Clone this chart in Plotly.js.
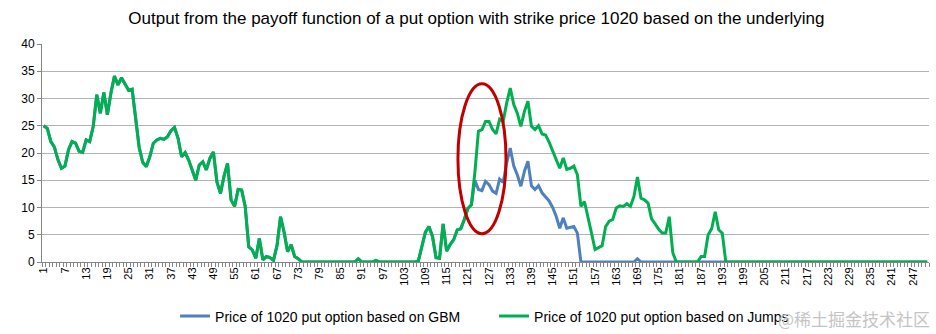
<!DOCTYPE html>
<html>
<head>
<meta charset="utf-8">
<script src="https://cdn.plot.ly/plotly-3.0.1.min.js"></script>
<style>html,body{margin:0;padding:0;background:#fff;}#chart{width:936px;height:334px;}</style>
</head>
<body>
<div id="chart"></div>
<script>
// Period index 1..251
var periods = [];
for (var k = 1; k <= 251; k++) periods.push(k);

var tickLabels = [1,7,13,19,25,31,37,43,49,55,61,67,73,79,85,91,97,103,109,115,121,127,133,139,145,151,157,163,169,175,181,187,193,199,205,211,217,223,229,235,241,247];

var gbmName = "Price of 1020 put option based on GBM";
var jumpName = "Price of 1020 put option based on Jumps";

var jumpValues = [
 25.0,24.5,22.1,21.1,18.8,17.2,17.6,20.6,22.1,21.8,
 20.3,20.1,22.4,22.1,24.9,30.7,27.3,31.1,27.0,31.0,
 34.1,32.5,33.8,32.5,31.5,31.7,26.0,21.0,18.3,17.5,
 19.3,21.8,22.4,22.7,22.5,23.0,24.1,24.7,22.7,19.3,
 20.1,18.7,16.9,15.0,17.8,18.4,16.9,19.0,20.2,14.7,
 12.6,15.7,18.1,11.4,10.2,13.3,13.2,10.2,2.8,2.2,
 0.7,4.3,0.4,1.0,0.8,0.3,3.0,8.3,5.5,1.9,
 3.2,1.0,0.6,0,0,0,0,0,0,0,
 0,0,0,0,0,0,0,0,0,0.6,
 0,0,0,0,0.3,0,0,0,0,0,
 0,0,0,0,0,0,0.2,3.0,5.5,6.5,
 4.7,0.8,0.7,7.0,2.0,3.2,4.1,5.9,6.1,7.8,
 9.8,10.5,16.5,24.0,24.3,25.8,25.8,24.3,23.5,26.2,
 25.8,29.2,31.9,28.9,27.3,24.9,27.6,29.5,24.9,24.3,
 25.0,23.5,23.3,22.0,20.5,18.8,17.2,19.1,17.0,17.2,
 17.6,16.0,10.2,11.1,8.4,5.3,2.3,2.6,3.0,6.5,
 7.5,7.8,9.9,10.3,10.2,10.7,10.2,12.0,15.6,11.7,
 11.4,10.8,7.9,7.0,6.0,5.3,5.3,8.3,1.7,0,
 0,0,0,0,0,0,1.0,1.0,5.0,6.1,
 9.2,5.9,5.3,0,0,0,0,0,0,0,
 0,0,0,0,0,0,0,0,0,0,
 0,0,0,0,0,0,0,0,0,0,
 0,0,0,0,0,0,0,0,0,0,
 0,0,0,0,0,0,0,0,0,0,
 0,0,0,0,0,0,0,0,0,0,
 0
];

var gbmValues = [
 25.0,24.5,22.1,21.1,18.8,17.2,17.6,20.6,22.1,21.8,
 20.3,20.1,22.4,22.1,24.9,30.7,27.3,31.1,27.0,31.0,
 34.1,32.5,33.8,32.5,31.5,31.7,26.0,21.0,18.3,17.5,
 19.3,21.8,22.4,22.7,22.5,23.0,24.1,24.7,22.7,19.3,
 20.1,18.7,16.9,15.0,17.8,18.4,16.9,19.0,20.2,14.7,
 12.6,15.7,18.1,11.4,10.2,13.3,13.2,10.2,2.8,2.2,
 0.7,4.3,0.4,1.0,0.8,0.3,3.0,8.3,5.5,1.9,
 3.2,1.0,0.6,0,0,0,0,0,0,0,
 0,0,0,0,0,0,0,0,0,0.6,
 0,0,0,0,0.3,0,0,0,0,0,
 0,0,0,0,0,0,0.2,3.0,5.5,6.5,
 4.7,0.8,0.7,7.0,2.0,3.2,4.1,5.9,6.1,7.8,
 9.8,10.5,15.0,13.3,13.1,14.8,14.2,13.0,12.6,15.2,
 14.6,18.2,20.9,17.6,16.0,13.9,16.6,18.5,14.0,13.3,
 14.0,12.7,12.0,11.2,10.0,8.4,6.2,8.1,6.2,6.3,
 6.5,5.3,0,0,0,0,0,0,0,0,
 0,0,0,0,0,0,0,0,0.6,0,
 0,0,0,0,0,0,0,0,0,0,
 0,0,0,0,0,0,0,0,0,0,
 0,0,0,0,0,0,0,0,0,0,
 0,0,0,0,0,0,0,0,0,0,
 0,0,0,0,0,0,0,0,0,0,
 0,0,0,0,0,0,0,0,0,0,
 0,0,0,0,0,0,0,0,0,0,
 0,0,0,0,0,0,0,0,0,0,
 0
];

var FONT = "'Liberation Sans', Arial, sans-serif";

var traces = [
  {x: periods, y: gbmValues, name: gbmName, type: 'scatter', mode: 'lines',
   line: {color: '#4f81bd', width: 3}},
  {x: periods, y: jumpValues, name: jumpName, type: 'scatter', mode: 'lines',
   line: {color: '#00b050', width: 3}}
];

var layout = {
  width: 936, height: 334,
  margin: {l: 42, r: 7, t: 44, b: 72, autoexpand: false},
  paper_bgcolor: '#fff', plot_bgcolor: '#fff',
  font: {family: FONT, color: '#000'},
  title: {text: 'Output from the payoff function of a put option with strike price 1020 based on the underlying',
          font: {family: FONT, size: 17, color: '#000'},
          x: 0.509, xanchor: 'center', y: 0.946, yanchor: 'middle'},
  xaxis: {range: [0.5, 251.5], tickmode: 'array', tickvals: tickLabels, ticktext: tickLabels.map(String),
          tickangle: -90, tickfont: {size: 11, color: '#000'}, ticks: '',
          showgrid: false, zeroline: false, showline: true, linecolor: '#868686', linewidth: 1,
          minor: {tick0: 0.5, dtick: 1, ticks: 'outside', ticklen: 4, tickcolor: '#868686', showgrid: false}},
  yaxis: {range: [0, 40], dtick: 5, tick0: 0, tickfont: {size: 12, color: '#000'},
          showgrid: true, gridcolor: '#b3b3b3', gridwidth: 1, zeroline: false,
          showline: true, linecolor: '#868686', linewidth: 1, ticks: 'outside', ticklen: 4, tickcolor: '#868686'},
  showlegend: true,
  legend: {orientation: 'h', x: 0.15, xanchor: 'left', y: -0.25, yanchor: 'middle',
           entrywidth: 274, entrywidthmode: 'pixels',
           font: {family: FONT, size: 14, color: '#000'}, bgcolor: 'rgba(0,0,0,0)'},
  shapes: [{type: 'circle', xref: 'x', yref: 'y', x0: 118.2, x1: 131.8, y0: 5.2, y1: 32.7,
            line: {color: '#c00000', width: 3}}],
  annotations: [{text: '@稀土掘金技术社区', xref: 'paper', yref: 'paper', x: 1.003, y: -0.257,
                 xanchor: 'right', yanchor: 'middle', showarrow: false,
                 font: {family: "'Noto Sans CJK SC', sans-serif", size: 17, color: '#c4c4c4'}}]
};

Plotly.newPlot('chart', traces, layout, {displayModeBar: false, staticPlot: true});
</script>
</body>
</html>
